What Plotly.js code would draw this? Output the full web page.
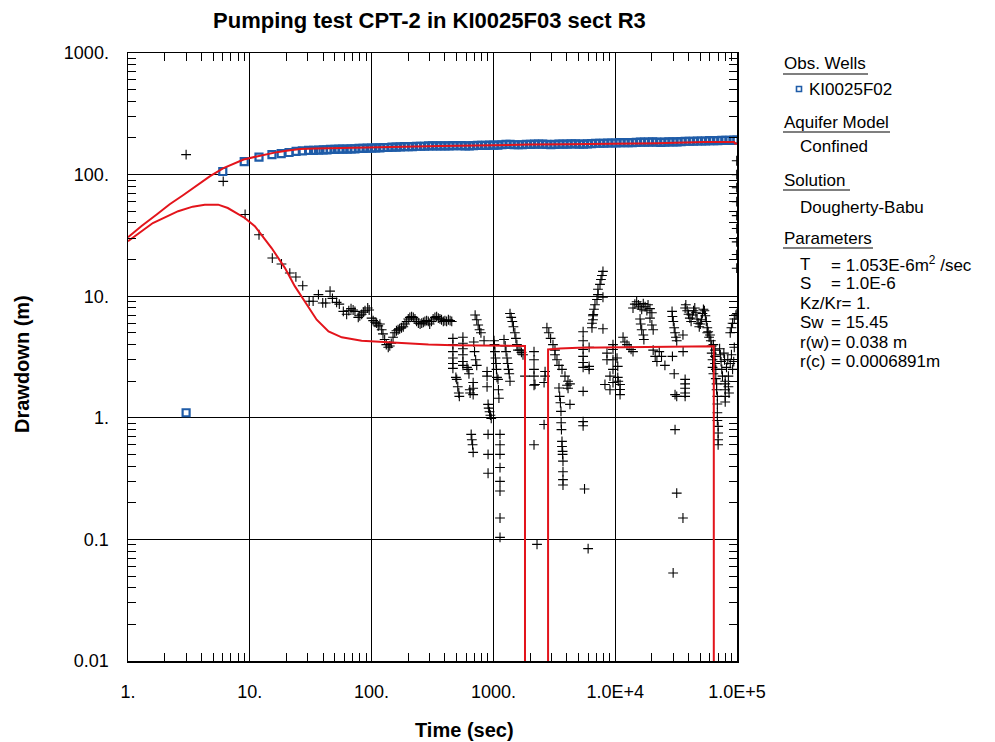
<!DOCTYPE html>
<html><head><meta charset="utf-8">
<script src="https://cdn.plot.ly/plotly-3.0.1.min.js"></script>
<style>html,body{margin:0;padding:0;background:#fff}#chart{width:995px;height:742px}</style>
</head><body><div id="chart"></div>
<script>
// Observation well KI0025F02 drawdown (m) vs time (sec)
const obsTime = [3.0, 6.0, 9.0, 11.9, 15.2, 18.1, 21, 24, 27, 30.4, 33.4, 36.7, 40, 43, 46, 50, 54, 58, 63, 68, 73, 79, 85, 92, 100, 108, 117, 126, 136, 147, 159, 172, 186, 200, 216, 234, 252, 272, 294, 317, 343, 370, 400, 432, 466, 503, 544, 587, 634, 685, 740, 800, 864, 933, 1008, 1088, 1176, 1270, 1371, 1481, 1600, 1728, 1866, 2016, 2177, 2351, 2540, 2743, 2962, 3200, 3455, 3732, 4030, 4353, 4701, 5077, 5484, 5922, 6396, 6908, 7461, 8058, 8702, 9398, 10150, 10960, 11840, 12790, 13810, 14910, 16110, 17400, 18790, 20290, 21910, 23670, 25560, 27610, 29820, 32200, 34780, 37560, 40560, 43810, 47310, 51100, 55190, 59600, 64370, 69520, 75080, 81090, 87570, 94580, 100000];
const obsDrawdown = [1.1, 106, 128, 139, 146, 149, 152, 155, 157, 158, 158, 159, 160, 160, 161, 161, 162, 162, 162, 163, 163, 164, 164, 165, 165, 166, 166, 167, 167, 168, 168, 169, 170, 170, 170, 171, 171, 171, 172, 172, 172, 172, 172, 172, 173, 173, 173, 172, 172, 173, 174, 174, 174, 175, 175, 175, 176, 177, 177, 176, 176, 176, 177, 177, 178, 178, 178, 177, 176, 177, 178, 178, 178, 179, 179, 178, 178, 179, 180, 181, 181, 181, 182, 182, 182, 183, 183, 183, 183, 184, 185, 185, 185, 186, 185, 184, 185, 186, 186, 186, 187, 188, 188, 188, 189, 189, 189, 190, 190, 190, 191, 191, 191, 192, 192];

// Derivative data (black crosses)
const derivTime = [3.0, 6.05, 9.15, 11.9, 15.3, 18.2, 21.3, 23.9, 27.2, 30.7, 33.1, 36.6, 39.7, 42.0, 45.6, 47.7, 51.6, 54.3, 58.6, 62.4, 65, 67.8, 70.5, 73, 77.7, 80, 82.9, 85.5, 88.3, 92.9, 95.5, 100, 103, 106.8, 110, 113.4, 117, 121, 124, 128, 132, 137, 141, 145, 150, 155, 160, 165, 170, 176, 182, 188, 194, 200, 206, 213, 220, 227, 234, 242, 250, 258, 266, 274, 283, 292, 300, 310, 320, 331, 342, 353, 364, 375, 388, 400, 413, 427, 441, 455,
 465, 465, 465, 465, 465, 465, 492, 500, 510, 520, 525, 562, 562, 562, 562, 562, 562, 607, 620, 630, 640, 644, 657, 665, 675, 682, 682, 682, 682, 690, 700, 715, 730, 708, 730, 750, 770, 790, 838, 887, 887, 887, 904, 915, 930, 945, 960, 904, 904, 904,
 1012, 1020, 1030, 1040, 1051, 1060, 1070, 1091, 1100, 1110, 1133, 1133, 1133, 1133, 1133, 1133, 1133, 1133, 1222, 1250, 1270, 1293, 1310, 1330, 1350, 1369, 1369, 1400, 1430, 1460, 1500, 1530, 1560, 1592, 1653, 1700, 1750, 1817,
 2155, 2155, 2155, 2155, 2155, 2155, 2196, 2281, 2606, 2606, 2656, 2656, 2750, 2850, 2950, 3084, 3203, 3203, 3326, 3455, 3657, 3870, 4097, 3455, 3500, 3550, 3588, 3600, 3620, 3657, 3657, 3700, 3700, 3726, 3726, 3726, 3726, 4020, 4100, 4253, 4253,
 5453, 5453, 5453, 5453, 5453, 5453, 5453, 5453, 5453, 5600, 5993, 6108, 6108, 6108, 6446, 6446, 6570, 6570, 6600, 6695, 6822, 7085, 7220, 7220, 7499, 7640, 7786, 7935, 7935, 7935, 8240, 8560, 8560, 9060, 9060, 9590, 9590, 9590, 9590, 9590,
 10350, 10500, 10500, 10600, 10960, 10960, 10960, 11600, 12000, 12500, 13000, 13500, 14000, 14000, 14500, 15000, 15500, 16000, 16500, 17000, 17600, 18200, 18600, 19300, 20000, 16000, 16200, 16500, 17000, 17200, 19300, 20000, 20500, 20500, 21300, 22000, 23000, 24000, 25600,
 29300, 29500, 30000, 30500, 31000, 31500, 32000, 29500, 30500, 31000, 32000, 29900, 31000, 32000, 36000, 36100, 37500, 37500, 37500, 37500, 37500, 36000, 37500, 38000, 39000, 40000, 41000, 42000, 43000, 44000, 45000, 46000, 47000, 48000, 49000, 50000, 51000, 52000, 53000, 54000, 55000, 56000, 57000, 58000, 59000, 57000, 60000,
 61000, 62000, 62000, 63000, 63000, 64000, 64000, 66000, 66000, 66000, 67000, 67000, 68000, 68000, 69000, 69000, 69000, 69000, 70000, 70000, 70000, 70000, 72000, 73000, 74000, 75000, 76000, 78000, 79000, 80000, 80000, 80000, 80000, 80000, 82000, 84000, 85000, 85000, 86000, 88000, 90000, 92000, 94000, 95000, 88000, 90000, 92000, 95000, 98000, 100000,
 99500, 99500, 99500, 99500, 99500, 99500, 99500, 99500, 99500];
const derivValue = [146, 88, 47, 32, 20.6, 18.4, 15.5, 14.4, 12.2, 9.1, 9.1, 10.3, 8.8, 8.8, 11.0, 9.6, 8.9, 8.6, 7.5, 7.1, 7.6, 7.9, 7.7, 7.5, 6.7, 6.9, 7.1, 7.4, 7.6, 8.0, 7.7, 6.6, 6.3, 6.1, 6.0, 5.7, 5.9, 5.3, 4.9, 4.4, 4.0, 3.8, 3.9, 4.1, 4.6, 5.0, 5.2, 5.3, 5.4, 5.5, 5.6, 5.9, 6.2, 6.5, 6.7, 6.8, 6.7, 6.5, 6.2, 6.0, 5.9, 6.0, 6.1, 6.2, 6.3, 6.2, 5.9, 6.2, 6.5, 6.7, 6.8, 6.6, 6.5, 6.4, 6.2, 6.3, 6.2, 6.4, 6.3, 6.2,
 4.5, 4.0, 3.5, 3.1, 2.8, 2.55, 2.15, 2.07, 1.8, 1.6, 1.5, 4.6, 4.1, 3.7, 3.3, 2.9, 2.7, 2.6, 2.5, 2.3, 1.7, 1.6, 0.73, 0.66, 0.6, 0.52, 1.95, 1.75, 1.55, 4.2, 3.5, 3.0, 2.7, 7.0, 6.4, 5.8, 5.3, 5.0, 4.3, 2.4, 2.2, 1.8, 1.29, 1.2, 1.12, 1.05, 0.99, 0.73, 0.5, 0.35,
 4.3, 4.0, 3.5, 3.1, 2.8, 2.5, 2.15, 2.07, 1.7, 1.45, 0.73, 0.6, 0.5, 0.39, 0.3, 0.25, 0.15, 0.104, 4.4, 3.9, 3.5, 3.1, 2.8, 2.5, 2.3, 2.0, 7.2, 6.7, 6.2, 5.6, 5.0, 4.5, 4.0, 3.6, 3.6, 3.45, 3.3, 2.2,
 3.5, 3.0, 2.5, 2.2, 1.85, 0.6, 1.88, 0.091, 1.95, 0.88, 2.4, 2.2, 5.5, 5.0, 4.5, 4.0, 3.6, 3.3, 3.0, 2.7, 2.5, 2.2, 2.0, 1.76, 1.5, 1.33, 1.13, 0.91, 0.8, 0.64, 0.58, 0.53, 0.5, 0.44, 0.36, 0.31, 0.28, 1.85, 1.75, 1.9, 1.29,
 5.1, 4.3, 3.65, 3.2, 2.85, 2.6, 1.65, 0.93, 0.86, 0.26, 0.084, 3.8, 2.65, 2.5, 5.5, 6.0, 6.4, 6.9, 7.07, 7.8, 8.5, 9.4, 10.3, 11.4, 12.5, 13.7, 14.8, 16.0, 9.8, 5.4, 1.88, 3.4, 3.0, 2.2, 1.7, 4.0, 3.65, 3.0, 2.5, 1.95,
 3.1, 2.65, 2.15, 2.0, 1.88, 1.71, 1.55, 4.6, 4.2, 4.0, 3.8, 3.65, 3.5, 8.0, 8.6, 9.0, 8.5, 8.2, 7.8, 8.7, 8.2, 7.6, 8.5, 7.9, 7.3, 6.5, 5.9, 5.3, 4.8, 4.4, 6.6, 5.8, 5.3, 3.6, 3.2, 2.9, 3.5, 3.2, 2.7,
 7.5, 6.8, 6.2, 5.5, 5.0, 4.6, 4.3, 3.2, 2.3, 1.55, 1.5, 0.053, 0.8, 0.24, 0.15, 3.5, 2.07, 1.9, 1.75, 1.6, 1.5, 4.8, 8.0, 8.5, 7.6, 7.1, 6.6, 6.2, 7.0, 7.6, 8.0, 7.3, 6.5, 6.0, 5.6, 5.9, 6.4, 7.2, 7.8, 7.6, 6.9, 6.2, 5.5, 5.1, 4.6, 5.0, 4.8,
 4.3, 3.9, 3.4, 3.0, 2.6, 2.3, 4.0, 3.6, 3.2, 2.8, 2.5, 2.1, 1.9, 1.7, 1.5, 1.3, 1.1, 0.95, 0.85, 0.75, 0.66, 0.6, 3.7, 3.3, 2.9, 2.5, 2.2, 3.4, 3.0, 2.0, 1.9, 1.7, 1.5, 1.35, 2.6, 3.0, 2.2, 1.8, 1.6, 2.8, 3.3, 2.5, 2.9, 3.8, 5.0, 5.5, 6.0, 6.5, 7.0, 7.2,
 17, 22, 28, 36, 46, 60, 78, 100, 130];

// Dougherty-Babu model curve and its derivative (red)
const modelTime = [1, 1.3, 1.72, 2.2, 2.85, 3.6, 4.72, 6.08, 7.5, 8.9, 11.4, 14, 16.7, 20, 25.9, 35, 48.8, 70, 104, 172, 370, 1000, 1950, 4000, 7900, 22000, 53000, 95000, 96000, 100000];
const modelDrawdown = [30.5, 38, 47, 57, 68, 80, 97, 113, 124, 133, 141, 148, 153, 157, 162, 164, 165, 167, 169, 171, 172, 174, 177, 177.5, 178.5, 181, 185, 185, 180, 180];
const modelDerivTime = [1, 1.6, 2.58, 3.4, 4.27, 5.5, 6.6, 9.1, 11.0, 15.1, 19.4, 23.4, 28.2, 35.4, 44.3, 56.9, 82.8, 121, 189, 293, 470, 1000, 1817, 1817, 2811, 2811, 3500, 5000, 11000, 39000, 64500, 64500];
const modelDerivValue = [28.3, 40, 50, 54.5, 56.6, 56.6, 53.1, 44, 37.6, 24.9, 17.1, 12.1, 9.08, 6.41, 5.14, 4.59, 4.31, 4.2, 4.13, 4.0, 3.95, 3.93, 3.9, 1e-6, 1e-6, 3.65, 3.72, 3.76, 3.8, 3.87, 3.87, 1e-6];

// Tick labels
const xTickVals = [1, 10, 100, 1000, 10000, 100000];
const xTickText = ['1.', '10.', '100.', '1000.', '1.0E+4', '1.0E+5'];
const yTickVals = [0.01, 0.1, 1, 10, 100, 1000];
const yTickText = ['0.01', '0.1', '1.', '10.', '100.', '1000.'];

// Side panel text
const panelHeaders = ['Obs. Wells', 'Aquifer Model', 'Solution', 'Parameters'];
const panelItems = ['KI0025F02', 'Confined', 'Dougherty-Babu'];
const paramNames = ['T', 'S', 'Kz/Kr', 'Sw', 'r(w)', 'r(c)'];
const paramValues = ['= 1.053E-6m<sup>2</sup> /sec', '= 1.0E-6', '= 1.', '= 15.45', '= 0.038 m', '= 0.0006891m'];

const W = 995, H = 742, ML = 128, MR = 258, MT = 53, MB = 81;
const PW = W - ML - MR, PH = H - MT - MB;
const px = x => (x - ML) / PW;
const py = y => (H - MB - y) / PH;

function minorVals(lo, hi) {
  const v = [];
  for (let d = lo; d < hi; d++) for (let k = 2; k <= 9; k++) v.push(k * Math.pow(10, d));
  return v;
}

const FONT = '"Liberation Sans", Arial, Helvetica, sans-serif';
const blue = '#1f5ca8', red = '#e3141b';

const traces = [
  {x: obsTime, y: obsDrawdown, type: 'scatter', mode: 'markers', name: 'KI0025F02',
   marker: {symbol: 'square-open', size: 7, color: blue, line: {width: 2.2, color: blue}}},
  {x: derivTime, y: derivValue, type: 'scatter', mode: 'markers', name: 'derivative',
   marker: {symbol: 'cross-thin-open', size: 7, color: '#000', line: {width: 1.1, color: '#000'}}},
  {x: modelTime, y: modelDrawdown, type: 'scatter', mode: 'lines', name: 'model',
   line: {color: red, width: 2}},
  {x: modelDerivTime, y: modelDerivValue, type: 'scatter', mode: 'lines', name: 'model derivative',
   line: {color: red, width: 2}}
];

const axisCommon = {
  type: 'log', showgrid: true, gridcolor: '#000', gridwidth: 1,
  showline: true, linecolor: '#000', linewidth: 1.5, mirror: 'ticks',
  ticks: '', zeroline: false, automargin: false, tickmode: 'array',
  ticklabelstandoff: 14, tickfont: {family: FONT, size: 18, color: '#000'}
};

function txt(text, x, y, size, extra) {
  return Object.assign({text: text, xref: 'paper', yref: 'paper', x: px(x), y: py(y),
    xanchor: 'left', yanchor: 'middle', showarrow: false, borderpad: 0,
    font: {family: FONT, size: size, color: '#000'}}, extra || {});
}

const annotations = [];
const shapes = [];
const headerY = [64, 122, 180, 238];
const headerW = [85, 107, 67, 90];
panelHeaders.forEach((t, i) => {
  annotations.push(txt(t, 783, headerY[i], 17));
  shapes.push({type: 'line', xref: 'paper', yref: 'paper', x0: px(783), x1: px(783 + headerW[i]),
    y0: py(headerY[i] + 10), y1: py(headerY[i] + 10), line: {color: '#555', width: 1.5}});
});
const itemY = [89, 147, 207], itemX = [808, 799, 799];
panelItems.forEach((t, i) => annotations.push(txt(t, itemX[i], itemY[i], 17)));
shapes.push({type: 'rect', xref: 'paper', yref: 'paper', x0: px(796.5), x1: px(801.5), y0: py(91.5), y1: py(86.5),
  line: {color: blue, width: 1.6}, fillcolor: '#fff'});
const paramY = [264, 283.5, 303, 322.5, 342, 361.5];
paramNames.forEach((t, i) => {
  if (t === 'Kz/Kr') {
    annotations.push(txt(t + paramValues[i], 799, paramY[i], 17));
  } else {
    annotations.push(txt(t, 799, paramY[i], 17));
    annotations.push(txt(paramValues[i], 830, paramY[i], 17));
  }
});
// axis titles
annotations.push(txt('<b>Time (sec)</b>', 464, 730, 20, {xanchor: 'center'}));
annotations.push(txt('<b>Drawdown (m)</b>', 22, 364, 20, {xanchor: 'center', textangle: -90}));

const layout = {
  width: W, height: H,
  margin: {l: ML, r: MR, t: MT, b: MB},
  paper_bgcolor: '#fff', plot_bgcolor: '#fff',
  font: {family: FONT, size: 17, color: '#000'},
  showlegend: false,
  title: {text: '<b>Pumping test CPT-2 in KI0025F03 sect R3</b>', xref: 'paper', x: 0.495, xanchor: 'center',
    yref: 'container', y: 1 - 20 / H, yanchor: 'middle', font: {family: FONT, size: 22, color: '#000'}},
  xaxis: Object.assign({}, axisCommon, {
    range: [0, 5], tickvals: xTickVals, ticktext: xTickText,
    minor: {tickmode: 'array', tickvals: minorVals(0, 5), ticks: 'inside', ticklen: 8, tickwidth: 1, tickcolor: '#000', showgrid: false}
  }),
  yaxis: Object.assign({}, axisCommon, {
    range: [-2, 3], tickvals: yTickVals, ticktext: yTickText,
    minor: {tickmode: 'array', tickvals: minorVals(-2, 3), ticks: 'inside', ticklen: 8, tickwidth: 1, tickcolor: '#000', showgrid: false}
  }),
  annotations: annotations,
  shapes: shapes
};

Plotly.newPlot('chart', traces, layout, {staticPlot: true, displayModeBar: false});
</script>
</body></html>
